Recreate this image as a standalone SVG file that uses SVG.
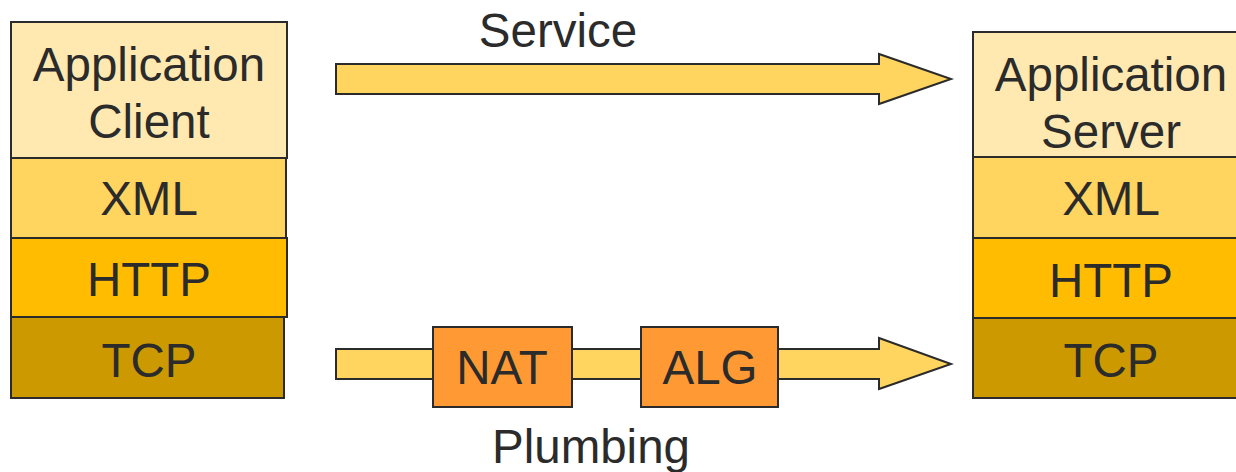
<svg xmlns="http://www.w3.org/2000/svg" width="1236" height="472" viewBox="0 0 1236 472">
<style>
.b{stroke:#2b2b2b;stroke-width:2}
.app{fill:#FFE9B0}
.xml{fill:#FFD45F}
.http{fill:#FFBC00}
.tcp{fill:#CC9900}
.mid{fill:#FF9933}
.arrow{fill:#FFD45F;stroke:#2b2b2b;stroke-width:2;stroke-linejoin:miter}
text{font-family:"Liberation Sans",Arial,sans-serif;font-size:47.5px;fill:#2b2b2b;text-anchor:middle}
</style>
<rect width="1236" height="472" fill="#fff"/>
<g id="connectors">
<polygon class="arrow" points="336,64 879,64 879,54 951,79 879,104 879,94 336,94"/>
<polygon class="arrow" points="336,349 879,349 879,338 951,364 879,389 879,379 336,379"/>
</g>
<g id="client">
<rect class="b app" x="11" y="22" width="276" height="136"/>
<text x="149" y="81">Application</text>
<text x="149" y="138">Client</text>
</g>
<g id="client-xml">
<rect class="b xml" x="11" y="158" width="275" height="80"/>
<text x="149" y="215">XML</text>
</g>
<g id="client-http">
<rect class="b http" x="11" y="238" width="276" height="79"/>
<text x="149" y="296">HTTP</text>
</g>
<g id="client-tcp">
<rect class="b tcp" x="11" y="317" width="273" height="81"/>
<text x="149" y="377">TCP</text>
</g>
<g id="server">
<rect class="b app" x="973" y="32" width="276" height="125"/>
<text x="1111" y="91">Application</text>
<text x="1111" y="148">Server</text>
</g>
<g id="server-xml">
<rect class="b xml" x="973" y="157" width="276" height="81"/>
<text x="1111" y="215">XML</text>
</g>
<g id="server-http">
<rect class="b http" x="973" y="238" width="276" height="80"/>
<text x="1111" y="297">HTTP</text>
</g>
<g id="server-tcp">
<rect class="b tcp" x="973" y="318" width="276" height="80"/>
<text x="1111" y="377">TCP</text>
</g>
<g id="nat">
<rect class="b mid" x="433" y="327" width="139" height="80"/>
<text x="502" y="384">NAT</text>
</g>
<g id="alg">
<rect class="b mid" x="641" y="327" width="137" height="80"/>
<text x="710" y="384">ALG</text>
</g>
<g id="labels">
<text x="558" y="47">Service</text>
<text x="591" y="463">Plumbing</text>
</g>
</svg>
